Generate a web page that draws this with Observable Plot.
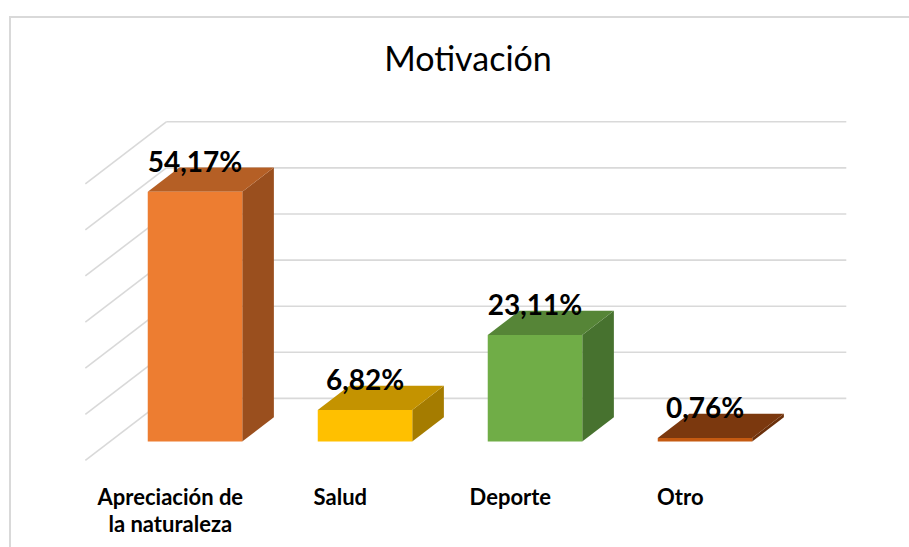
<!DOCTYPE html>
<html>
<head>
<meta charset="utf-8">
<script src="https://cdn.jsdelivr.net/npm/d3@7"></script>
<script src="https://cdn.jsdelivr.net/npm/@observablehq/plot@0.6"></script>
<style>
  body { margin: 0; background: #fff; width: 909px; height: 547px; overflow: hidden; font-family: Lato, sans-serif; }
  #frame { position: absolute; left: 9px; top: 16px; width: 1000px; height: 600px;
           border-left: 2px solid #d9d9d9; border-top: 2px solid #d9d9d9; z-index: 5; pointer-events: none; }
  #title { height: 100px; box-sizing: border-box; padding-top: 41px; padding-left: 27px;
           text-align: center; font-size: 34px; line-height: 1; color: #000; }
  #chart svg { display: block; }
</style>
</head>
<body>
<div id="frame"></div>
<div id="title">Motivación</div>
<div id="chart"></div>
<script>
// ---- data ----
const categories = ["Apreciación de\nla naturaleza", "Salud", "Deporte", "Otro"];
const values = [54.17, 6.82, 23.11, 0.76];
const valueLabels = ["54,17%", "6,82%", "23,11%", "0,76%"];
const gridTicks = [0, 10, 20, 30, 40, 50, 60];

// ---- colours ----
const frontColors = ["#ED7D31", "#FFC000", "#70AD47", "#C55A11"];
const topColors   = ["#B55F25", "#C49300", "#568537", "#7B380E"];
const sideColors  = ["#9A4F1E", "#A57C00", "#47722F", "#6B300B"];

// ---- oblique projection (depth unit -> data units) ----
const KX = 0.186, KY = 5.25;
const Z_FLOOR = -0.78, Z_WALL = 1.78;
const HALF = 0.278;
const P = (x, y, z) => ({x: x + z * KX, y: y + z * KY});

const faces = [];
values.forEach((v, i) => {
  const c = i + 0.5, l = c - HALF, r = c + HALF;
  const add = (id, fill, pts) => pts.forEach(p => faces.push({...p, id, fill}));
  add(i + "s", sideColors[i], [P(r, 0, 0), P(r, v, 0), P(r, v, 1), P(r, 0, 1)]);
  add(i + "t", topColors[i], [P(l, v, 0), P(r, v, 0), P(r, v, 1), P(l, v, 1)]);
  add(i + "f", frontColors[i], [P(l, 0, 0), P(r, 0, 0), P(r, v, 0), P(l, v, 0)]);
});

const grid = {stroke: "#d9d9d9", strokeWidth: 1.6};

const chart = Plot.plot({
  width: 909,
  height: 447,
  marginLeft: 109.5,
  marginRight: 119.5,
  marginTop: 64.4,
  marginBottom: 106,
  style: {fontFamily: "Lato, sans-serif", background: "transparent", overflow: "visible"},
  x: {domain: [0, 4], axis: null},
  y: {domain: [0, 60], axis: null},
  color: {type: "identity"},
  marks: [
    // back wall gridlines
    Plot.link(gridTicks, {
      x1: () => P(0, 0, Z_WALL).x, x2: () => P(4, 0, Z_WALL).x,
      y1: d => P(0, d, Z_WALL).y, y2: d => P(0, d, Z_WALL).y, ...grid
    }),
    // side wall gridlines
    Plot.link(gridTicks, {
      x1: () => P(0, 0, Z_FLOOR).x, x2: () => P(0, 0, Z_WALL).x,
      y1: d => P(0, d, Z_FLOOR).y, y2: d => P(0, d, Z_WALL).y, ...grid
    }),
    // 3D bars
    Plot.line(faces, {x: "x", y: "y", z: "id", fill: "fill", stroke: null, curve: "linear-closed"}),
    // value labels
    Plot.text(values, {
      x: (d, i) => i + 0.5, y: d => d, text: (d, i) => valueLabels[i],
      dy: -20, lineAnchor: "bottom", fontSize: 28, fontWeight: "bold", fill: "#000"
    }),
    // category labels
    Plot.text(categories, {
      x: (d, i) => P(i + 0.5, 0, Z_FLOOR).x, y: () => P(0, 0, Z_FLOOR).y, text: d => d,
      dy: 26, lineAnchor: "top", lineHeight: 1.2, fontSize: 22, fontWeight: "bold", fill: "#000"
    })
  ]
});
document.getElementById("chart").appendChild(chart);
</script>
</body>
</html>
